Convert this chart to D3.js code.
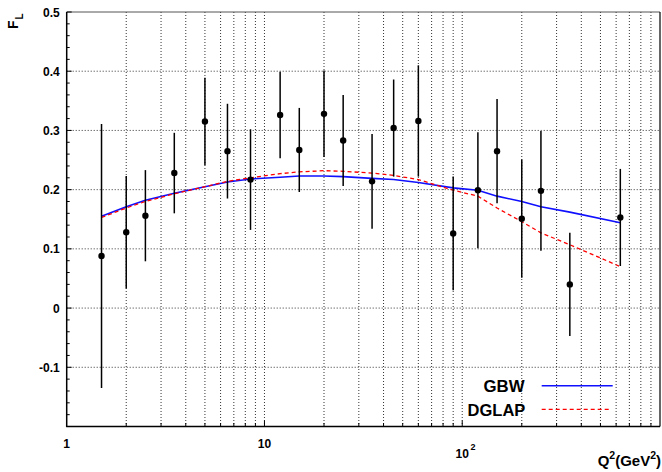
<!DOCTYPE html>
<html>
<head>
<meta charset="utf-8">
<script src="https://cdn.jsdelivr.net/npm/d3@7"></script>
<style>
  html, body { margin: 0; padding: 0; background: #fff; }
  svg { display: block; font-family: "Liberation Sans", Arial, Helvetica, sans-serif; }
</style>
</head>
<body>
<svg id="chart" width="662" height="472"></svg>
<script>
// Q^2 bins (GeV^2)
const q2 = [1.5, 2, 2.5, 3.5, 5, 6.5, 8.5, 12, 15, 20, 25, 35, 45, 60, 90, 120, 150, 200, 250, 350, 630];
// measured F_L and total uncertainty
const fl = [0.088, 0.128, 0.156, 0.228, 0.315, 0.265, 0.217, 0.326, 0.267, 0.328, 0.283, 0.214, 0.304, 0.316, 0.126, 0.199, 0.265, 0.151, 0.198, 0.040, 0.153];
const flErr = [0.223, 0.095, 0.077, 0.068, 0.074, 0.080, 0.085, 0.073, 0.071, 0.073, 0.077, 0.080, 0.082, 0.094, 0.096, 0.098, 0.088, 0.100, 0.101, 0.087, 0.082];
// model predictions at the same Q^2
const gbw = [0.155, 0.171, 0.182, 0.194, 0.205, 0.213, 0.218, 0.221, 0.223, 0.223, 0.222, 0.219, 0.217, 0.212, 0.203, 0.199, 0.189, 0.180, 0.171, 0.162, 0.144];
const dglap = [0.153, 0.169, 0.180, 0.193, 0.205, 0.214, 0.220, 0.227, 0.230, 0.232, 0.231, 0.228, 0.224, 0.217, 0.199, 0.189, 0.169, 0.146, 0.127, 0.107, 0.070];
// axis ticks
const yTicks = [-0.1, 0, 0.1, 0.2, 0.3, 0.4, 0.5];
const yTickLabels = ["-0.1", "0", "0.1", "0.2", "0.3", "0.4", "0.5"];

const svg = d3.select("#chart");
const L = 66.7, R = 660, T = 12, B = 426.5;

const x = d3.scaleLog().domain([1, 1000]).range([L, R]);
const y = d3.scaleLinear().domain([-0.2, 0.5]).range([B, T]);

// x grid positions: 2..9 of each decade plus decade marks
const xGrid = [];
[1, 10, 100].forEach(d => { for (let k = 1; k <= 9; k++) { const v = d * k; if (v > 1) xGrid.push(v); } });

const grid = svg.append("g");
grid.selectAll("line.vx").data(xGrid.filter(v => v < 1000)).enter().append("line")
  .attr("x1", d => x(d)).attr("x2", d => x(d))
  .attr("y1", T).attr("y2", B)
  .attr("stroke", "#333").attr("stroke-width", 1).attr("stroke-dasharray", "1,2");
grid.selectAll("line.hy").data(yTicks.filter(v => v < 0.5)).enter().append("line")
  .attr("x1", L).attr("x2", R)
  .attr("y1", d => y(d)).attr("y2", d => y(d))
  .attr("stroke", "#333").attr("stroke-width", 1).attr("stroke-dasharray", "1,2");

// frame: top (0.5 line) and right edge
svg.append("line").attr("x1", L).attr("x2", R).attr("y1", y(0.5)).attr("y2", y(0.5))
  .attr("stroke", "#555").attr("stroke-width", 1);
svg.append("line").attr("x1", R).attr("x2", R).attr("y1", T).attr("y2", B)
  .attr("stroke", "#000").attr("stroke-width", 1.2);

// y minor ticks every 0.02, pointing inward
const yMinor = d3.range(-0.2, 0.5001, 0.02);
svg.append("g").selectAll("line").data(yMinor).enter().append("line")
  .attr("x1", L).attr("x2", d => L + (Math.abs(Math.round(d * 100) % 10) < 0.5 ? 5 : 3))
  .attr("y1", d => y(d)).attr("y2", d => y(d))
  .attr("stroke", "#000").attr("stroke-width", 1);

// x ticks pointing inward
svg.append("g").selectAll("line").data(xGrid.filter(v => v < 1000)).enter().append("line")
  .attr("x1", d => x(d)).attr("x2", d => x(d))
  .attr("y1", B).attr("y2", d => B - ([10, 100].includes(d) ? 6 : 3.5))
  .attr("stroke", "#000").attr("stroke-width", 1);

// axis lines
svg.append("line").attr("x1", L).attr("x2", L).attr("y1", T).attr("y2", B + 0.5)
  .attr("stroke", "#000").attr("stroke-width", 1.5);
svg.append("line").attr("x1", L - 0.5).attr("x2", R).attr("y1", B).attr("y2", B)
  .attr("stroke", "#000").attr("stroke-width", 1.5);

// y tick labels
svg.append("g").selectAll("text").data(yTicks).enter().append("text")
  .attr("x", L - 7).attr("y", d => y(d) + 4.5)
  .attr("text-anchor", "end").attr("font-size", 12).attr("font-weight", "bold")
  .text((d, i) => yTickLabels[i]);

// x tick labels
svg.append("text").attr("x", x(1)).attr("y", 448).attr("text-anchor", "middle")
  .attr("font-size", 12).attr("font-weight", "bold").text("1");
svg.append("text").attr("x", x(10)).attr("y", 448).attr("text-anchor", "middle")
  .attr("font-size", 12).attr("font-weight", "bold").text("10");
const t100 = svg.append("text").attr("x", x(100) - 6.7).attr("y", 458)
  .attr("font-size", 12).attr("font-weight", "bold");
t100.append("tspan").text("10");
t100.append("tspan").attr("dy", -8.5).attr("font-size", 9).attr("dx", 1.5).text("2");

// axis titles
const xt = svg.append("text").attr("x", 661).attr("y", 466).attr("text-anchor", "end")
  .attr("font-size", 15).attr("font-weight", "bold");
xt.append("tspan").text("Q");
xt.append("tspan").attr("dy", -7).attr("font-size", 10.5).text("2");
xt.append("tspan").attr("dy", 7).text("(GeV");
xt.append("tspan").attr("dy", -7).attr("font-size", 10.5).text("2");
xt.append("tspan").attr("dy", 7).text(")");

const yt = svg.append("text").attr("transform", "translate(17.5,29) rotate(-90)")
  .attr("font-size", 14).attr("font-weight", "bold");
yt.append("tspan").text("F");
yt.append("tspan").attr("dy", 5.5).attr("dx", 1).attr("font-size", 10).text("L");

// model curves
const pts = (vals) => q2.map((q, i) => [x(q), y(vals[i])]);
const line = d3.line();
svg.append("path").attr("d", line(pts(gbw)))
  .attr("fill", "none").attr("stroke", "#1010ff").attr("stroke-width", 1.6);
svg.append("path").attr("d", line(pts(dglap)))
  .attr("fill", "none").attr("stroke", "#ff0000").attr("stroke-width", 1.3)
  .attr("stroke-dasharray", "4,3");

// data points with error bars
const g = svg.append("g");
g.selectAll("line").data(q2).enter().append("line")
  .attr("x1", d => x(d)).attr("x2", d => x(d))
  .attr("y1", (d, i) => y(fl[i] + flErr[i])).attr("y2", (d, i) => y(fl[i] - flErr[i]))
  .attr("stroke", "#000").attr("stroke-width", 1.5);
g.selectAll("circle").data(q2).enter().append("circle")
  .attr("cx", d => x(d)).attr("cy", (d, i) => y(fl[i]))
  .attr("r", 3.2).attr("fill", "#000");

// legend
svg.append("text").attr("x", 524.5).attr("y", 392).attr("text-anchor", "end")
  .attr("font-size", 16.8).attr("font-weight", "bold").text("GBW");
svg.append("line").attr("x1", 541.7).attr("x2", 612.7).attr("y1", 385.7).attr("y2", 385.7)
  .attr("stroke", "#1010ff").attr("stroke-width", 1.6);
svg.append("text").attr("x", 525.3).attr("y", 416).attr("text-anchor", "end")
  .attr("font-size", 16.5).attr("font-weight", "bold").text("DGLAP");
svg.append("line").attr("x1", 541.7).attr("x2", 610).attr("y1", 409.3).attr("y2", 409.3)
  .attr("stroke", "#ff0000").attr("stroke-width", 1.3).attr("stroke-dasharray", "4,3");
</script>
</body>
</html>
